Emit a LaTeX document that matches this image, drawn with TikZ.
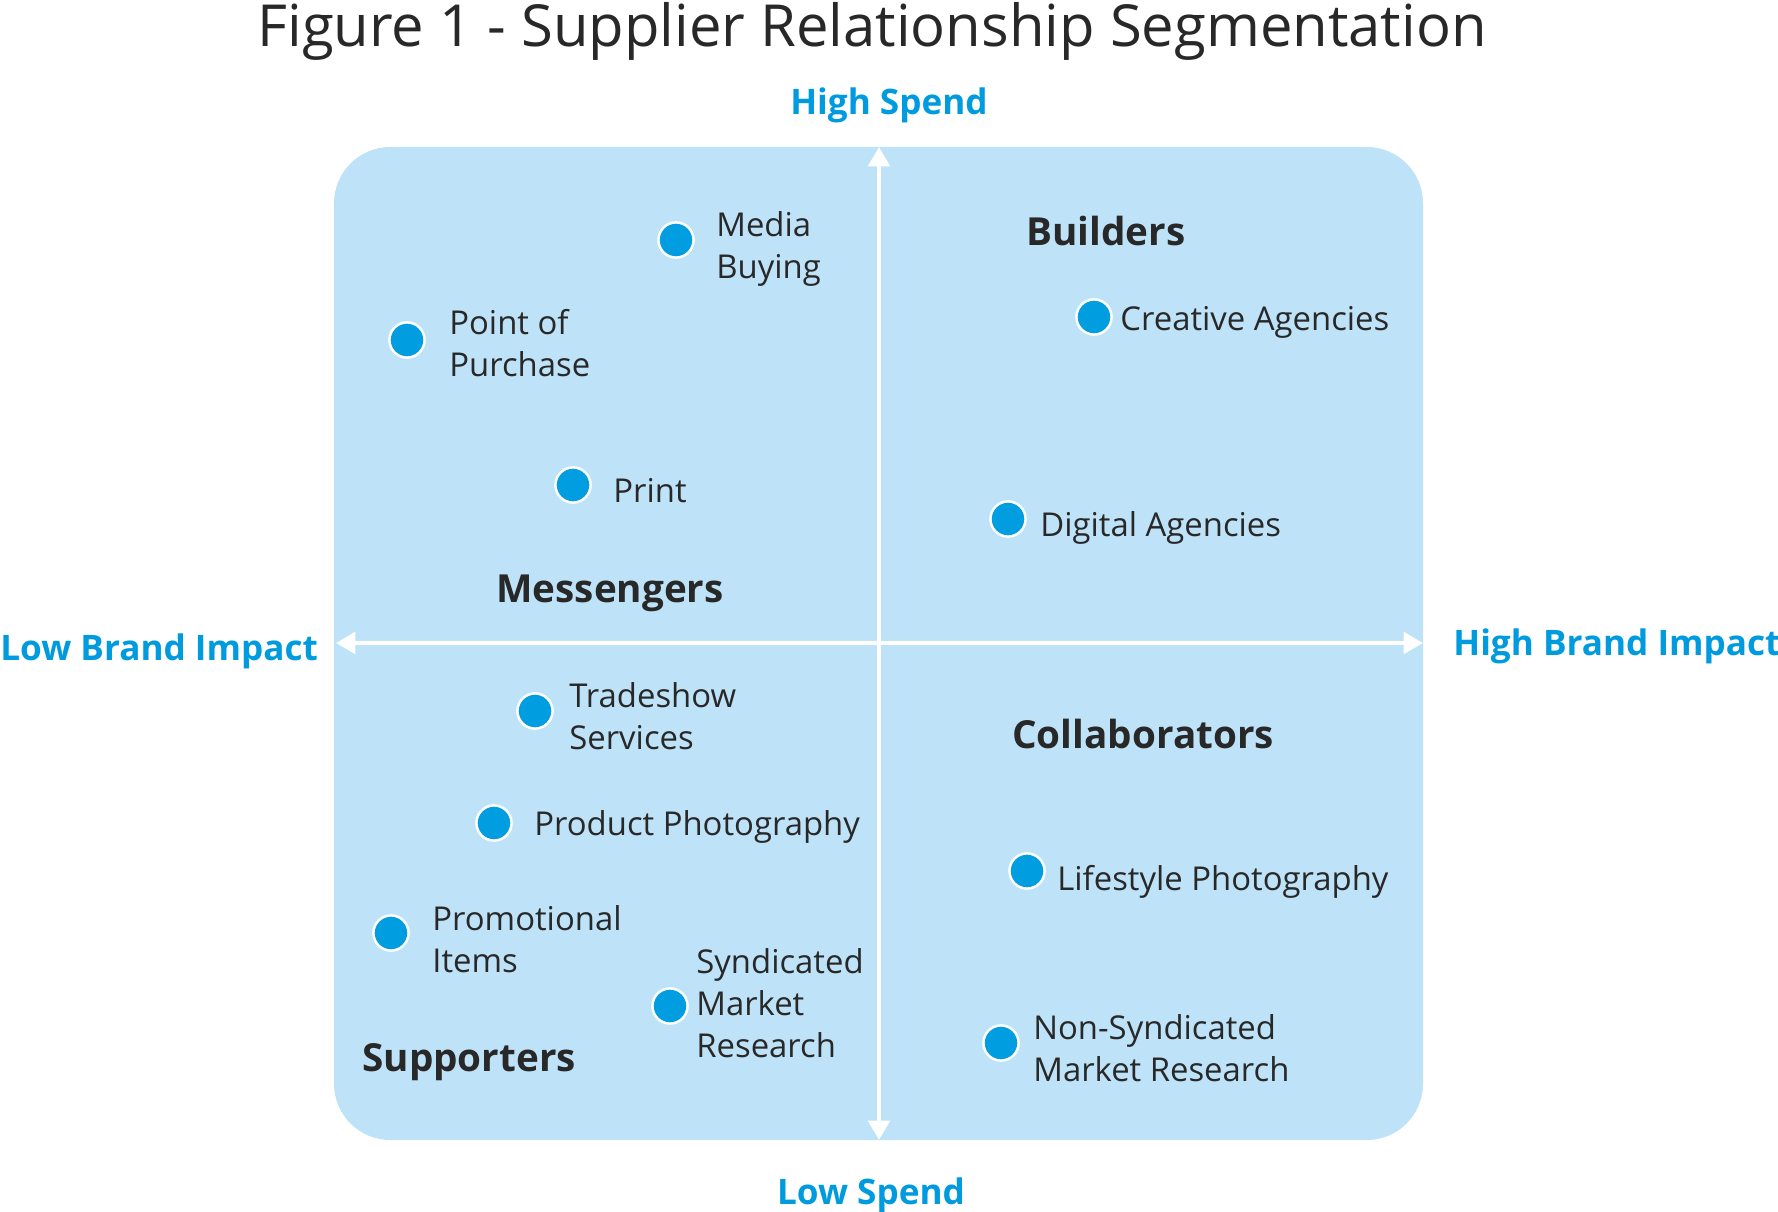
\documentclass[tikz,border=0pt]{standalone}
\usepackage{fontspec}
\setmainfont{Open Sans}
\usepackage{xcolor}
\usepackage{tikz}
\usetikzlibrary{arrows.meta, positioning}
\definecolor{cpanel}{RGB}{190,227,248}
\definecolor{cdot}{RGB}{0,157,224}
\definecolor{caxis}{RGB}{0,155,222}
\definecolor{ctext}{RGB}{40,40,40}

\begin{document}
\begin{tikzpicture}[
    x=0.02cm, y=-0.02cm,
    >={Triangle[length=11pt, width=12pt]},
    dot/.style={circle, fill=cdot, draw=white, line width=1.4pt, minimum size=20pt, inner sep=0pt},
    item/.style={anchor=west, align=left, inner sep=0pt, text=ctext, font=\fontsize{18.7}{23.8}\selectfont},
    quad/.style={anchor=west, inner sep=0pt, text=ctext, font=\fontsize{22}{26}\selectfont\bfseries},
    axislabel/.style={inner sep=0pt, text=caxis, font=\fontsize{20}{24}\selectfont\bfseries},
]
    \useasboundingbox (0,0) rectangle (1778,1212);

    % panel and axes
    \fill[cpanel, rounded corners=32pt] (334,147) rectangle (1423,1140);
    \coordinate (top) at (879,147);
    \coordinate (bottom) at (879,1140);
    \coordinate (left) at (336,643);
    \coordinate (right) at (1423,643);
    \draw[<->, white, line width=2.8pt] (bottom) -- (top);
    \draw[<->, white, line width=2.8pt] (left) -- (right);

    % title and axis labels
    \node[anchor=base, inner sep=0pt, text=ctext, font=\fontsize{33}{38}\selectfont] (title) at (872,47) {Figure 1 - Supplier Relationship Segmentation};
    \node[axislabel] (hspend) at (889,105) {High Spend};
    \node[axislabel] (lspend) at (871,1195) {Low Spend};
    \node[axislabel, anchor=west] (lbrand) at (0,651) {Low Brand Impact};
    \node[axislabel, anchor=west] (hbrand) at (1453,646) {High Brand Impact};

    % quadrants
    \node[quad] (builders) at (1026,231) {Builders};
    \node[quad] (messengers) at (496,593) {Messengers};
    \node[quad] (collab) at (1012,734) {Collaborators};
    \node[quad] (supporters) at (362,1062) {Supporters};

    % suppliers
    \node[dot] (media) at (676,240) {};
    \node[item] (medialbl) at (716,249) {Media\\Buying};
    \node[dot] (pop) at (407,340) {};
    \node[item] (poplbl) at (449,343) {Point of\\Purchase};
    \node[dot] (print) at (573,485) {};
    \node[item] (printlbl) at (613,491) {Print};
    \node[dot] (creative) at (1094,317) {};
    \node[item] (creativelbl) at (1120,322) {Creative Agencies};
    \node[dot] (digital) at (1008,519) {};
    \node[item] (digitallbl) at (1040,528) {Digital Agencies};
    \node[dot] (trade) at (535,711) {};
    \node[item] (tradelbl) at (569,716) {Tradeshow\\Services};
    \node[dot] (product) at (494,823) {};
    \node[item] (productlbl) at (534,827) {Product Photography};
    \node[dot] (promo) at (391,933) {};
    \node[item] (promolbl) at (432,939) {Promotional\\Items};
    \node[dot] (synd) at (670,1006) {};
    \node[item] (syndlbl) at (696,1003) {Syndicated\\Market\\Research};
    \node[dot] (lifestyle) at (1027,871) {};
    \node[item] (lifestylelbl) at (1057,882) {Lifestyle Photography};
    \node[dot] (nonsynd) at (1001,1043) {};
    \node[item] (nonsyndlbl) at (1033,1048) {Non-Syndicated\\Market Research};
\end{tikzpicture}
\end{document}
